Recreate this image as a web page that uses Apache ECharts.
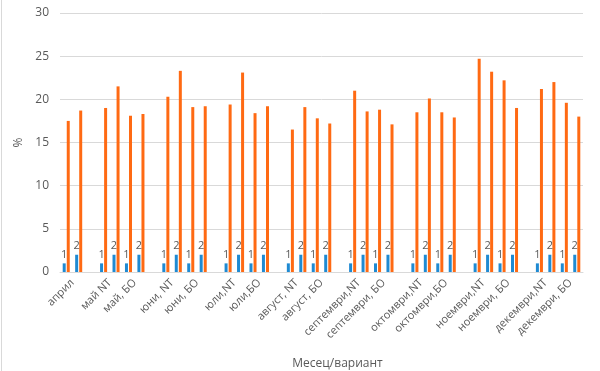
<!DOCTYPE html>
<html>
<head>
<meta charset="utf-8">
<script src="https://cdn.jsdelivr.net/npm/echarts@6/dist/echarts.min.js"></script>
<style>html,body{margin:0;padding:0;background:#fff}#c{width:600px;height:371px}</style>
</head>
<body>
<div id="c"></div>
<script>
// Groups along the axis (null = empty spacer slot)
const groupLabels = ['април', null, 'май NT', 'май, БО', null, 'юни, NT', 'юни, БО', null,
  'юли,NT', 'юли,БО', null, 'август, NT', 'август, БО', null, 'септември,NT', 'септември, БО', null,
  'октомври,NT', 'октомври,БО', null, 'ноември,NT', 'ноември, БО', null, 'декември,NT', 'декември, БО'];
// variant number (blue bars), two per group
const variantValues = [1, 2];
// percent values (orange bars), two per group, in group order
const percentValues = [
  [17.5, 18.7],
  [19.0, 21.5], [18.1, 18.3],
  [20.3, 23.3], [19.1, 19.2],
  [19.4, 23.1], [18.4, 19.2],
  [16.5, 19.1], [17.8, 17.2],
  [21.0, 18.6], [18.8, 17.1],
  [18.5, 20.1], [18.5, 17.9],
  [24.7, 23.2], [22.2, 19.0],
  [21.2, 22.0], [19.6, 18.0]
];
const yTicks = [0, 5, 10, 15, 20, 25, 30];

// Build slots (each labelled group = 2 slots, spacer = 1 slot)
const slotCats = [], blue = [], orange = [];
const labelAt = {};
let gi = 0;
groupLabels.forEach(function (g) {
  if (g === null) {
    slotCats.push('gap' + slotCats.length); blue.push(null); orange.push(null);
  } else {
    const p = percentValues[gi++];
    labelAt[slotCats.length + 1] = g;
    for (let k = 0; k < 2; k++) {
      slotCats.push(g + '#' + k); blue.push(variantValues[k]); orange.push(p[k]);
    }
  }
});
const bl = [];
for (let i = 0; i <= slotCats.length; i++) bl.push(labelAt[i] || '');

const chart = echarts.init(document.getElementById('c'), null, {renderer: 'canvas'});
const font = '"Open Sans", "Noto Sans", sans-serif';
chart.setOption({
  animation: false,
  textStyle: {fontFamily: font},
  grid: {left: 60, right: 17, top: 13, bottom: 99, containLabel: false, outerBoundsMode: 'none'},
  graphic: [{type: 'line', shape: {x1: 1.5, y1: 0, x2: 1.5, y2: 371}, style: {stroke: '#d9d9d9', lineWidth: 1}}],
  xAxis: [{
    type: 'category', data: slotCats, boundaryGap: true,
    axisLine: {lineStyle: {color: '#d9d9d9'}}, axisTick: {show: false}, axisLabel: {show: false}
  }, {
    type: 'category', data: bl, boundaryGap: false, position: 'bottom',
    axisLine: {show: false}, axisTick: {show: false},
    axisLabel: {interval: 0, rotate: 45, margin: 9, fontSize: 11, color: '#595959', fontFamily: font},
    name: 'Месец/вариант', nameLocation: 'middle', nameGap: 86,
    nameTextStyle: {fontSize: 12, color: '#595959', padding: [0, 0, 0, 32], fontFamily: font}
  }],
  yAxis: {
    type: 'value', min: yTicks[0], max: yTicks[yTicks.length - 1], interval: 5,
    name: '%', nameLocation: 'middle', nameGap: 33, nameRotate: 90,
    nameTextStyle: {fontSize: 12, color: '#595959'},
    axisLine: {show: false}, axisTick: {show: false},
    axisLabel: {fontSize: 12, color: '#595959', margin: 11},
    splitLine: {lineStyle: {color: '#d9d9d9'}}
  },
  series: [{
    type: 'bar', xAxisIndex: 0, data: blue, barWidth: 3, barGap: '35%',
    itemStyle: {color: '#1f8ad2'},
    label: {show: true, position: 'top', distance: 3, fontSize: 11, color: '#595959', fontFamily: font}
  }, {
    type: 'bar', xAxisIndex: 0, data: orange, barWidth: 3,
    itemStyle: {color: '#ff6a13'}
  }]
});
</script>
</body>
</html>
